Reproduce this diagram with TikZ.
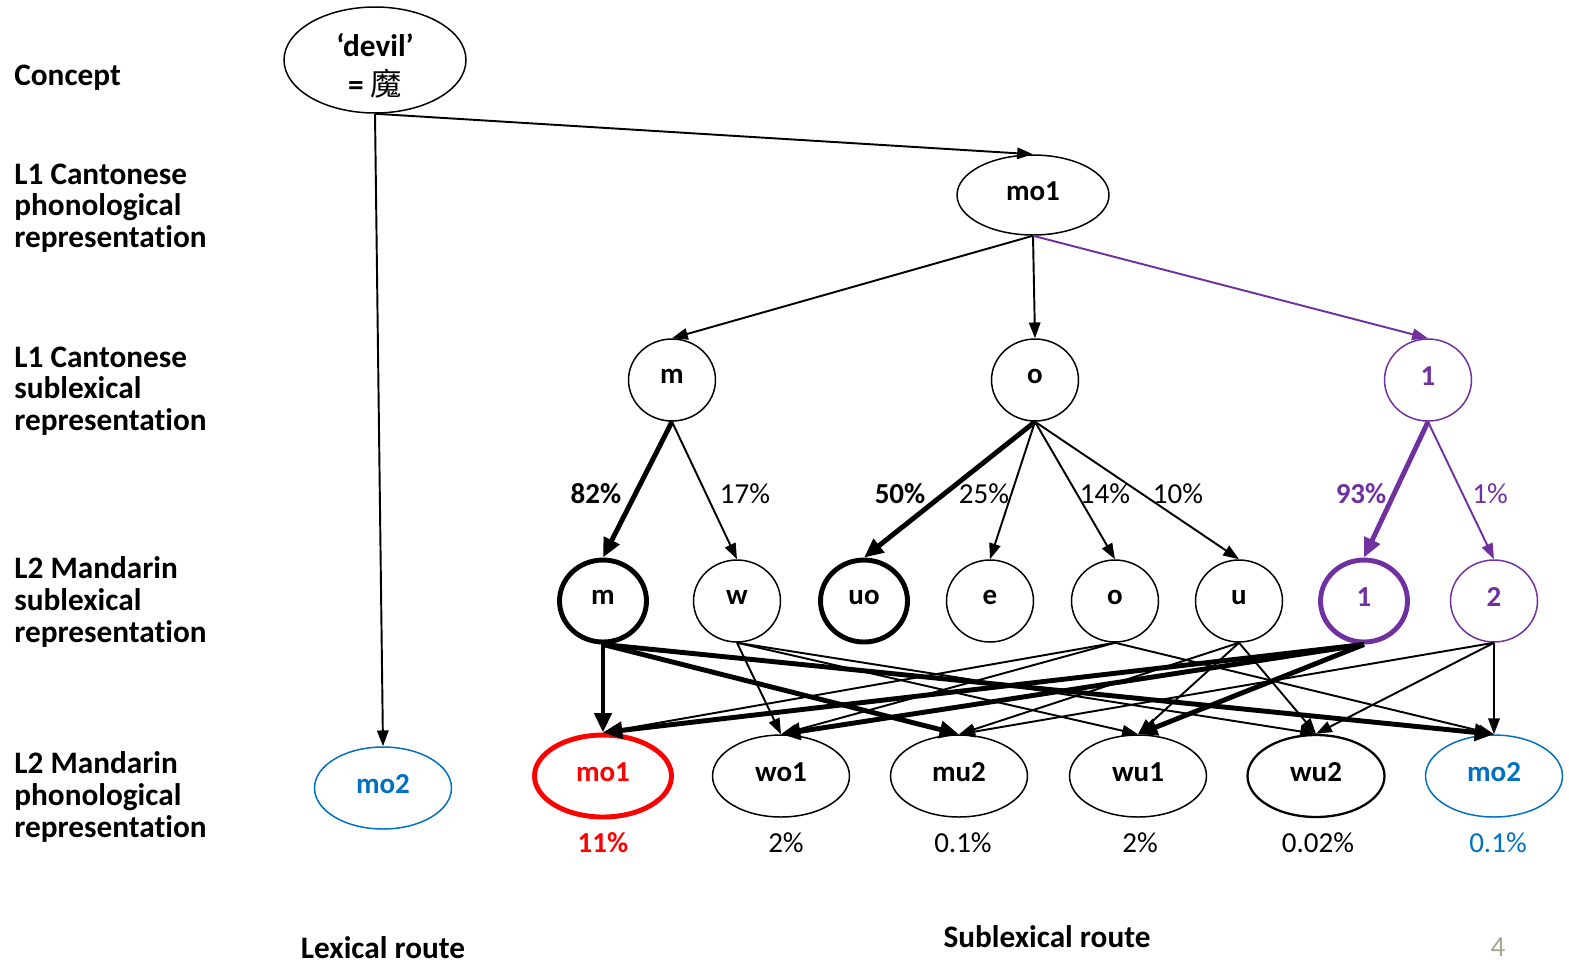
\documentclass[tikz,border=0pt]{standalone}
\usepackage{fontspec}
\setmainfont[RawFeature={-liga;-dlig;-calt}]{Carlito}
\newfontfamily\cjk{Noto Sans CJK SC}
\usetikzlibrary{arrows.meta,shapes.geometric}
\definecolor{lilac}{RGB}{112,48,160}
\definecolor{hotred}{RGB}{255,0,0}
\definecolor{ppblue}{RGB}{0,112,192}
\definecolor{pagegray}{RGB}{166,166,145}

\begin{document}
\begin{tikzpicture}[x=0.02cm, y=-0.02cm,
  >={Triangle[length=9pt,width=6.5pt]},
  every node/.style={font=\fontsize{16.5}{19}\selectfont\bfseries},
  side/.style={align=left, anchor=west, inner sep=0pt, font=\fontsize{17.8}{18.1}\selectfont\bfseries},
  seg/.style={ellipse, draw, line width=0.85pt, minimum width=1.74cm, minimum height=1.64cm, inner sep=0pt, text depth=.45em},
  word/.style={ellipse, draw, line width=0.85pt, minimum width=2.74cm, minimum height=1.64cm, inner sep=0pt, text depth=.45em},
  heavy/.style={line width=2.8pt},
  weak/.style={->, line width=1.1pt},
  strong/.style={->, line width=2.8pt, >={Triangle[length=11pt,width=9.5pt]}},
  pct/.style={font=\fontsize{16.5}{19}\selectfont},
]
  \useasboundingbox (0,0) rectangle (1569,965);

  % level names
  \node[side] (lconcept) at (14,78) {Concept};
  \node[side] (lcph) at (14,208) {L1 Cantonese\\phonological\\representation};
  \node[side] (lcsub) at (14,391) {L1 Cantonese\\sublexical\\representation};
  \node[side] (lmsub) at (14,602) {L2 Mandarin\\sublexical\\representation};
  \node[side] (lmph) at (14,797) {L2 Mandarin\\phonological\\representation};

  % concept and L1
  \node[ellipse, draw, line width=0.85pt, minimum width=3.64cm, minimum height=2.12cm, inner sep=0pt] (devil) at (375,60) {};
  \node[align=center, font=\fontsize{17.8}{22.5}\selectfont\bfseries] (devilword) at (375,66) {‘devil’\\= {\cjk\mdseries 魔}};
  \node[word, minimum width=3.04cm, minimum height=1.6cm] (cmo) at (1033,195) {mo1};
  \node[seg] (cm) at (672,380) {m};
  \node[seg] (co) at (1035,380) {o};
  \node[seg, draw=lilac, text=lilac] (ct) at (1428,380) {1};

  % L2 sublexical
  \node[seg, heavy] (mm) at (603,601) {m};
  \node[seg] (mw) at (737,601) {w};
  \node[seg, heavy] (muo) at (864,601) {uo};
  \node[seg] (me) at (990,601) {e};
  \node[seg] (mo) at (1115,601) {o};
  \node[seg] (mu) at (1239,601) {u};
  \node[seg, heavy, draw=lilac, text=lilac] (mt1) at (1364,601) {1};
  \node[seg, draw=lilac, text=lilac] (mt2) at (1494,601) {2};

  % L2 phonological
  \node[word, draw=ppblue, text=ppblue] (lmo2) at (383,788) {mo2};
  \node[word, heavy, draw=hotred, text=hotred] (pmo1) at (603,776) {mo1};
  \node[word] (pwo1) at (781,776) {wo1};
  \node[word] (pmu2) at (959,776) {mu2};
  \node[word] (pwu1) at (1138,776) {wu1};
  \node[word, line width=1.3pt] (pwu2) at (1316,776) {wu2};
  \node[word, draw=ppblue, text=ppblue] (pmo2) at (1494,776) {mo2};

  % connections
  \draw[weak] (devil.south) -- (cmo.north);
  \draw[weak] (devil.south) -- (lmo2.north);
  \draw[weak] (cmo.south) -- (cm.north);
  \draw[weak] (cmo.south) -- (co.north);
  \draw[weak, lilac] (cmo.south) -- (ct.north);

  \draw[strong] (cm.south) -- (mm.north);
  \draw[weak] (cm.south) -- (mw.north);
  \draw[strong] (co.south) -- (muo.north);
  \draw[weak] (co.south) -- (me.north);
  \draw[weak] (co.south) -- (mo.north);
  \draw[weak] (co.south) -- (mu.north);
  \draw[strong, lilac] (ct.south) -- (mt1.north);
  \draw[weak, lilac] (ct.south) -- (mt2.north);

  \foreach \a/\b in {mw/pwo1, mw/pwu1, mw/pwu2, mo/pmo1, mo/pwo1, mo/pmo2,
                     mu/pmu2, mu/pwu1, mu/pwu2, mt2/pmu2, mt2/pwu2, mt2/pmo2}
    \draw[weak] (\a.south) -- (\b.north);
  \foreach \a/\b in {mm/pmo1, mm/pmu2, mm/pmo2, mt1/pmo1, mt1/pwo1, mt1/pwu1}
    \draw[strong] (\a.south) -- (\b.north);

  % mapping percentages
  \node (p82) at (596,494) {82\%};
  \node[pct] (p17) at (745,494) {17\%};
  \node (p50) at (900,494) {50\%};
  \node[pct] (p25) at (984,494) {25\%};
  \node[pct] (p14) at (1105,494) {14\%};
  \node[pct] (p10) at (1178,494) {10\%};
  \node[text=lilac] (p93) at (1361,494) {93\%};
  \node[pct, text=lilac] (p1) at (1490,494) {1\%};

  % output percentages
  \node[text=hotred] (o11) at (603,843) {11\%};
  \node[pct] (o2a) at (786,843) {2\%};
  \node[pct] (o01a) at (963,843) {0.1\%};
  \node[pct] (o2b) at (1140,843) {2\%};
  \node[pct] (o002) at (1318,843) {0.02\%};
  \node[pct, text=ppblue] (o01b) at (1498,843) {0.1\%};

  % routes
  \node[font=\fontsize{17.8}{18.1}\selectfont\bfseries] (lexr) at (383,948) {Lexical route};
  \node[font=\fontsize{17.8}{18.1}\selectfont\bfseries] (subr) at (1047,937) {Sublexical route};
  \node[pct, text=pagegray] (pgno) at (1498,947) {4};
\end{tikzpicture}
\end{document}
